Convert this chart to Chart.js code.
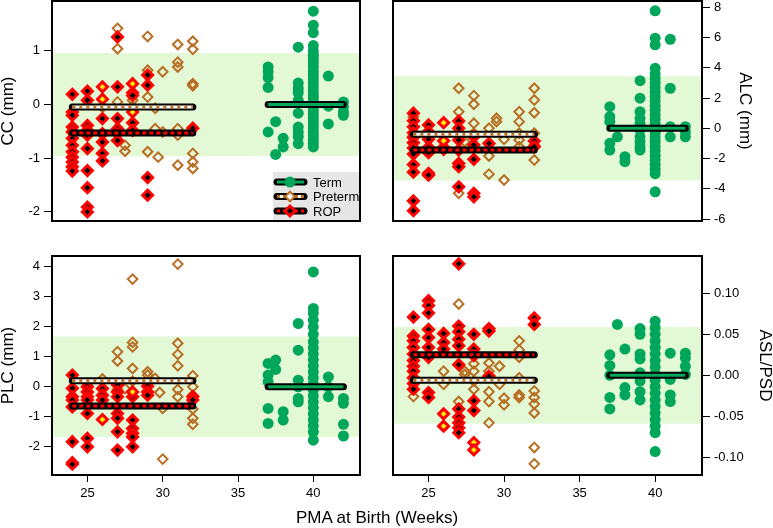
<!DOCTYPE html>
<html>
<head>
<meta charset="utf-8">
<script src="https://cdn.jsdelivr.net/npm/chart.js@4.4.0/dist/chart.umd.min.js"></script>
<style>
  body { margin: 0; background: #fff; width: 773px; height: 528px; position: relative; overflow: hidden;
         font-family: "Liberation Sans", Arial, sans-serif; }
  canvas { position: absolute; }
  #xTitle { position: absolute; left: 0; width: 754px; top: 508px; line-height: 20px; text-align: center; font-size: 17px; color: #000; }
</style>
</head>
<body>
<canvas id="cc" width="380" height="240" style="left:0;top:0"></canvas>
<canvas id="alc" width="387" height="240" style="left:386px;top:0"></canvas>
<canvas id="plc" width="380" height="260" style="left:0;top:250px"></canvas>
<canvas id="asl" width="387" height="260" style="left:386px;top:250px"></canvas>
<div id="xTitle">PMA at Birth (Weeks)</div>
<script>
// x axis (PMA at birth, weeks)
var weekTicks = [25, 30, 35, 40];
var weekMin = 22.65, weekMax = 43.1;

// group means (term normalised to 0) and the +/- normal range band
var meanTerm = [0, 0, 0, 0];
var meanPreterm = [-0.045, -0.40, 0.20, -0.006];
var meanRop = [-0.53, -1.44, -0.64, 0.025];
var normalBand = [0.96, 3.45, 1.68, 0.059];

// CC
var ccTerm = [[37,0.70],[37,0.61],[37,0.50],[37,0.32],[37,-0.51],[37.5,-0.32],[37.5,-0.93],[38,-0.63],[38,-0.79],
  [39,1.07],[39,0.40],[39,0.30],[39,0.22],[39,0.08],[39,-0.16],[39,-0.42],[39,-0.51],[39,-0.60],[39,-0.73],
  [40,1.74],[40,1.48],[40,1.34],[40,1.10],[40,1.0],[40,0.92],[40,0.85],[40,0.78],[40,0.70],[40,0.62],[40,0.55],[40,0.48],
  [40,0.40],[40,0.33],[40,0.25],[40,0.18],[40,0.12],[40,0.05],[40,0.0],[40,-0.05],[40,-0.12],[40,-0.18],[40,-0.25],
  [40,-0.32],[40,-0.38],[40,-0.45],[40,-0.52],[40,-0.58],[40,-0.65],[40,-0.72],[40,-0.79],
  [41,0.53],[41,-0.03],[41,-0.36],[42,0.05],[42,-0.04],[42,-0.14],[42,-0.20]];
var ccPreterm = [[27,1.42],[27,1.04],[29,1.27],[31,1.12],[32,1.18],[32,1.03],[31,0.79],[31,0.70],[30,0.61],[29,0.64],
  [29,0.14],[32,0.39],[32,0.35],[29.5,-0.07],[29.5,-0.45],[30,-0.51],[31,-0.45],[31,-0.57],[29,-0.88],[29.7,-0.98],
  [31,-1.13],[32,-0.91],[32,-1.07],[32,-1.19],[27.5,-0.76],[27.5,-0.87],[27,0.05],[28,0.08],[28,-0.04],[26,-0.05],[25,-0.5]];
var ccRop = [[24,0.19],[24,-0.14],[24,-0.20],[24,-0.42],[24,-0.51],[24,-0.63],[24,-0.76],[24,-0.88],[24,-0.98],[24,-1.07],
  [24,-1.16],[24,-1.24],[25,0.25],[25,0.08],[25,-0.39],[25,-0.48],[25,-0.57],[25,-0.82],[25,-1.23],[25,-1.55],[25,-1.91],
  [25,-2.0],[26,-0.26],[26,-0.54],[26,-0.70],[26,-0.91],[26,-1.05],[27,1.26],[27,0.33],[27,-0.26],[27,-0.45],[27,-0.54],
  [27,-0.67],[28,0.22],[28,0.17],[28,-0.34],[28,-0.48],[29,0.55],[29,0.36],[29,-1.36],[29,-1.69],[32,-0.44]];
var ccRopYellow = [[26,0.33],[26,0.10],[28,0.39],[28,-0.14]];

// ALC
var alcTerm = [[37,1.43],[37,0.77],[37,0.44],[37,-0.99],[37,-1.44],[37.5,-0.56],[38,-1.88],[38,-2.21],
  [39,3.15],[39,1.99],[39,1.10],[39,0.66],[39,0.33],[39,-0.11],[39,-0.56],[39,-0.89],[39,-1.22],[39,-1.44],
  [40,7.77],[40,5.96],[40,5.52],[40,3.97],[40,3.6],[40,3.3],[40,3.0],[40,2.7],[40,2.4],[40,2.1],[40,1.8],[40,1.5],
  [40,1.2],[40,0.9],[40,0.6],[40,0.3],[40,0],[40,-0.3],[40,-0.6],[40,-0.9],[40,-1.2],[40,-1.5],[40,-1.8],[40,-2.1],
  [40,-2.4],[40,-2.7],[40,-3.0],[40,-4.2],[41,5.89],[41,2.65],[41,0.11],[41,-0.56],[42,0.11],[42,-0.22],[42,-0.56]];
var alcPreterm = [[24,0.75],[24,-0.5],[27,2.65],[27,1.1],[27,-0.33],[27,-4.3],[28,2.16],[28,1.59],[28,0.33],[28,-0.33],
  [29,0.0],[29,-1.83],[29,-3.03],[29.5,0.66],[29.5,0.44],[30,-3.42],[30,-0.73],[27.4,-0.89],[31,1.1],[31,0.44],[31,-0.77],
  [31,-1.22],[31,-0.33],[32,2.65],[32,1.87],[32,1.03],[32,-0.33],[32,-1.1],[32,-2.1]];
var alcRop = [[24,1.0],[24,0.5],[24,0.1],[24,-0.3],[24,-0.6],[24,-0.95],[24,-1.3],[24,-1.7],[24,-2.4],[24,-2.9],[24,-4.8],
  [24,-5.45],[25,0.22],[25,-0.22],[25,-0.73],[25,-1.26],[25,-1.61],[25,-2.98],[25,-3.1],[26,-1.26],[26,-1.39],
  [27,0.48],[27,0.0],[27,-0.77],[27,-1.44],[27,-2.32],[27,-2.54],[27,-3.87],[28,-0.56],[28,-1.1],[28,-2.05],[28,-4.3],
  [28,-4.53],[29,-1.0],[32,-0.84],[32,-1.22]];
var alcRopYellow = [[26,0.37],[26,-0.82]];

// PLC
var plcTerm = [[37,0.78],[37,0.39],[37,0.17],[37,-0.72],[37,-1.22],[37.5,0.89],[37.5,0.58],[38,-0.83],[38,-1.11],
  [39,2.11],[39,1.22],[39,0.22],[39,0],[39,-0.39],[39,-0.5],
  [40,3.83],[40,2.61],[40,2.45],[40,2.22],[40,2.0],[40,1.75],[40,1.5],[40,1.3],[40,1.1],[40,0.9],[40,0.7],[40,0.5],
  [40,0.3],[40,0.1],[40,-0.1],[40,-0.3],[40,-0.5],[40,-0.7],[40,-0.9],[40,-1.1],[40,-1.3],[40,-1.5],[40,-1.78],
  [41,0.33],[41,0],[41,-0.33],[42,-0.39],[42,-0.55],[42,-1.25],[42,-1.64]];
var plcPreterm = [[28,3.59],[31,4.09],[27,1.17],[27,0.86],[28,1.48],[28,1.33],[28,0.61],[28,0.19],[29,0.5],[29,0.39],
  [29.5,0.28],[29.8,-0.19],[30,-0.72],[30,-2.41],[31,1.45],[31,1.08],[31,0.7],[31,-0.09],[31,-0.33],[32,0.37],[32,0],
  [32,-0.28],[32,-0.74],[32,-1.05],[32,-1.25],[26,0.26],[27.5,-0.06],[25,0.1],[27,-0.1]];
var plcRop = [[24,0.39],[24,-0.05],[24,-0.33],[24,-0.44],[24,-0.67],[24,-1.83],[24,-2.53],[24,-2.58],
  [25,0],[25,-0.17],[25,-0.33],[25,-0.44],[25,-0.89],[25,-1.72],[25,-2.0],[26,-0.06],[26,-0.28],[26,-0.44],
  [27,0.06],[27,-0.17],[27,-0.33],[27,-0.89],[27,-1.05],[27,-1.5],[27,-2.11],[28,-0.33],[28,-1.11],[28,-1.39],
  [28,-1.55],[28,-1.67],[28,-2.0],[29,0.02],[29,-0.17],[29,-0.28],[32,-0.33],[32,-0.44]];
var plcRopYellow = [[26,-1.09],[28,-0.17]];

// ASL/PSD
var aslTerm = [[37,0.025],[37,0.012],[37,0],[37,-0.027],[37,-0.041],[37.5,0.062],[38,0.032],[38,-0.015],[38,-0.024],
  [39,0.057],[39,0.050],[39,0.026],[39,0.020],[39,0.003],[39,-0.007],[39,-0.020],[39,-0.030],
  [40,0.066],[40,0.058],[40,0.050],[40,0.042],[40,0.034],[40,0.026],[40,0.018],[40,0.010],[40,0.002],[40,-0.006],
  [40,-0.014],[40,-0.022],[40,-0.030],[40,-0.038],[40,-0.046],[40,-0.054],[40,-0.062],[40,-0.070],[40,-0.093],
  [41,0.027],[41,-0.005],[41,-0.024],[41,-0.032],[42,0.027],[42,0.021],[42,0.011],[42,0.001]];
var aslPreterm = [[24,-0.026],[26,0.005],[26,-0.011],[27,0.087],[27,-0.032],[27.4,0.005],[27.4,0.001],[28,0.014],
  [28,0.005],[28,-0.017],[28,-0.007],[29,0.015],[29,0.005],[29,-0.020],[29,-0.032],[29,-0.058],[29.7,0.011],
  [29.7,-0.011],[30,-0.028],[30,-0.036],[31,0.042],[31,0.031],[31,0.022],[31,-0.003],[31,-0.024],[31,-0.027],
  [32,-0.019],[32,-0.027],[32,-0.035],[32,-0.046],[32,-0.088],[32,-0.108]];
var aslRop = [[24,0.071],[24,0.048],[24,0.042],[24,0.034],[24,0.026],[24,0.018],[24,0.011],[24,0.005],[24,-0.003],
  [24,-0.010],[24,-0.017],[25,0.091],[25,0.085],[25,0.076],[25,0.056],[25,0.046],[25,0.034],[25,0.022],[25,-0.021],
  [25,-0.027],[26,0.051],[26,0.040],[26,0.032],[27,0.136],[27,0.060],[27,0.053],[27,0.044],[27,0.036],[27,0.013],
  [27,-0.041],[27,-0.051],[27,-0.058],[27,-0.064],[27,-0.070],[28,0.050],[28,0.032],[28,0.024],[28,-0.031],[28,-0.043],
  [29,0.057],[29,0.054],[29,-0.001],[32,0.070],[32,0.062]];
var aslRopYellow = [[26,-0.047],[26,-0.062],[28,-0.082],[28,-0.091]];

// y axes
var yTitles = ['CC (mm)', 'ALC (mm)', 'PLC (mm)', 'ASL/PSD'];
var yMins = [-2.17, -6.13, -2.94, -0.1216];
var yMaxs = [1.93, 8.42, 4.36, 0.1455];
var yTickVals = [[-2, -1, 0, 1], [-6, -4, -2, 0, 2, 4, 6, 8], [-2, -1, 0, 1, 2, 3, 4], [-0.10, -0.05, 0, 0.05, 0.10]];

var GREEN = '#00a65a', BROWN = '#b86e23', RED = '#ff0000', BAND = '#e3f9d6';

Chart.defaults.font.family = '"Liberation Sans", Arial, sans-serif';
Chart.defaults.color = '#000';

function pts(arr) {
  return arr.map(function (p) { return {x: p[0], y: p[1]}; });
}

function hline(x0, x1, y) {
  return [{x: x0, y: y}, {x: x1, y: y}];
}

function lineDs(data, color, width, order, dash, cap) {
  return {data: data, showLine: true, borderColor: color, borderWidth: width, borderDash: dash || [],
    borderCapStyle: cap || 'butt', pointRadius: 0, order: order, fill: false};
}

function makePanel(id, i, term, preterm, rop, ropYellow, lay) {
  var ds = [];
  // mean bars: black outline with coloured core
  ds.push(lineDs(hline(37, 42, meanTerm[i]), '#000', 7, 3, null, 'round'));
  ds.push(lineDs(hline(37, 42, meanTerm[i]), GREEN, 3, 2));
  ds.push(lineDs(hline(24, 32, meanPreterm[i]), '#000', 7, 3, null, 'round'));
  ds.push(lineDs(hline(24, 32, meanPreterm[i]), '#fff', 3, 2));
  ds.push(lineDs(hline(24, 32, meanPreterm[i]), BROWN, 3, 1, [3, 4]));
  ds.push(lineDs(hline(24, 32, meanRop[i]), '#000', 7, 3, null, 'round'));
  ds.push(lineDs(hline(24, 32, meanRop[i]), RED, 3, 1, [4, 3]));
  // points
  ds.push({data: pts(ropYellow), pointStyle: 'rectRot', pointRadius: 5, pointBorderWidth: 3,
    pointBackgroundColor: '#ffee00', pointBorderColor: RED, order: 10});
  ds.push({data: pts(rop), pointStyle: 'rectRot', pointRadius: 5, pointBorderWidth: 3,
    pointBackgroundColor: '#000', pointBorderColor: RED, order: 11});
  ds.push({data: pts(preterm), pointStyle: 'rectRot', pointRadius: 4.8, pointBorderWidth: 2,
    pointBackgroundColor: 'rgba(0,0,0,0)', pointBorderColor: BROWN, order: 12});
  ds.push({data: pts(term), pointStyle: 'circle', pointRadius: 5.5, pointBorderWidth: 0,
    pointBackgroundColor: GREEN, pointBorderColor: GREEN, order: 13});

  var bandPlugin = {
    id: 'band' + i,
    beforeDatasetsDraw: function (chart) {
      var a = chart.chartArea, y = chart.scales.y, ctx = chart.ctx;
      var t = y.getPixelForValue(normalBand[i]), b = y.getPixelForValue(-normalBand[i]);
      ctx.save();
      ctx.fillStyle = BAND;
      ctx.fillRect(a.left, t, a.right - a.left, b - t);
      ctx.restore();
    },
    afterDatasetsDraw: function (chart) {
      var a = chart.chartArea, ctx = chart.ctx;
      ctx.save();
      ctx.strokeStyle = '#000';
      ctx.lineWidth = 2;
      ctx.strokeRect(a.left, a.top, a.right - a.left, a.bottom - a.top);
      ctx.restore();
    }
  };

  var fmt = function (v) { return i === 3 ? v.toFixed(2) : String(v); };

  var xScale = lay.bottom ? {
    min: weekMin, max: weekMax,
    afterBuildTicks: function (s) { s.ticks = weekTicks.map(function (v) { return {value: v}; }); },
    afterFit: function (s) { s.height = lay.xHeight; s.paddingLeft = 0; s.paddingRight = 0; },
    ticks: {font: {size: 13}, color: '#000', padding: 4, maxRotation: 0},
    grid: {drawOnChartArea: false, drawTicks: true, tickLength: 7, color: '#000', lineWidth: 1},
    border: {display: false}
  } : {display: false, min: weekMin, max: weekMax};

  var plugins = [bandPlugin];
  if (lay.legend) plugins.push(legendPlugin);

  new Chart(document.getElementById(id), {
    type: 'scatter',
    data: {datasets: ds},
    options: {
      responsive: false,
      animation: false,
      events: [],
      layout: {autoPadding: false, padding: lay.pad},
      plugins: {legend: {display: false}, tooltip: {enabled: false}},
      scales: {
        x: xScale,
        y: {
          position: lay.side,
          min: yMins[i], max: yMaxs[i],
          afterBuildTicks: function (s) { s.ticks = yTickVals[i].map(function (v) { return {value: v}; }); },
          afterFit: function (s) { s.width = lay.yWidth; s.paddingTop = 0; s.paddingBottom = 0; },
          ticks: {font: {size: 13}, color: '#000', padding: 4, callback: fmt},
          grid: {drawOnChartArea: false, drawTicks: true, tickLength: 8, color: '#000', lineWidth: 1},
          border: {display: false},
          title: {display: true, text: yTitles[i], color: '#000', font: {size: 17, lineHeight: 1},
            padding: {top: lay.titlePad, bottom: 0}}
        }
      }
    },
    plugins: plugins
  });
}

// legend box in the CC panel
var legendPlugin = {
  id: 'boxLegend',
  afterDraw: function (chart) {
    var a = chart.chartArea, ctx = chart.ctx;
    var bx = a.right - 87, by = a.bottom - 49;
    ctx.save();
    ctx.fillStyle = '#e6e6e6';
    ctx.fillRect(bx, by, 87, 49);
    ctx.strokeStyle = '#000';
    ctx.lineWidth = 2;
    ctx.strokeRect(a.left, a.top, a.right - a.left, a.bottom - a.top);
    var rows = [
      {label: 'Term', core: GREEN, dash: null, fill: GREEN, stroke: GREEN, style: 'circle', r: 5.5, bw: 0},
      {label: 'Preterm', core: '#fff', dash: BROWN, fill: '#fff', stroke: BROWN, style: 'rectRot', r: 4.8, bw: 2},
      {label: 'ROP', core: '#000', dash: RED, fill: '#000', stroke: RED, style: 'rectRot', r: 5, bw: 3}
    ];
    rows.forEach(function (row, k) {
      var y = by + 10 + k * 14.5;
      var x0 = bx + 4, x1 = bx + 31, xm = bx + 17;
      ctx.lineCap = 'round';
      ctx.setLineDash([]);
      ctx.strokeStyle = '#000';
      ctx.lineWidth = 7;
      ctx.beginPath(); ctx.moveTo(x0, y); ctx.lineTo(x1, y); ctx.stroke();
      ctx.lineCap = 'butt';
      ctx.strokeStyle = row.core;
      ctx.lineWidth = 3;
      ctx.beginPath(); ctx.moveTo(x0, y); ctx.lineTo(x1, y); ctx.stroke();
      if (row.dash) {
        ctx.setLineDash([3, 3]);
        ctx.strokeStyle = row.dash;
        ctx.beginPath(); ctx.moveTo(x0, y); ctx.lineTo(x1, y); ctx.stroke();
        ctx.setLineDash([]);
      }
      ctx.fillStyle = row.fill;
      ctx.strokeStyle = row.stroke;
      ctx.lineWidth = row.bw;
      Chart.helpers.drawPoint(ctx, {pointStyle: row.style, radius: row.r, borderWidth: row.bw, rotation: 0}, xm, y);
      ctx.fillStyle = '#000';
      ctx.font = '13px "Liberation Sans", Arial, sans-serif';
      ctx.textBaseline = 'middle';
      ctx.textAlign = 'left';
      ctx.fillText(row.label, bx + 40, y + 1);
    });
    ctx.restore();
  }
};

makePanel('cc', 0, ccTerm, ccPreterm, ccRop, ccRopYellow,
  {side: 'left', bottom: false, yWidth: 52, titlePad: 0, pad: {top: 1, right: 20, bottom: 19, left: 0}, legend: true});
makePanel('alc', 1, alcTerm, alcPreterm, alcRop, alcRopYellow,
  {side: 'right', bottom: false, yWidth: 71, titlePad: 19.5, pad: {top: 1, right: 0, bottom: 19, left: 7}});
makePanel('plc', 2, plcTerm, plcPreterm, plcRop, plcRopYellow,
  {side: 'left', bottom: true, yWidth: 52, xHeight: 35, titlePad: 0, pad: {top: 6, right: 20, bottom: 0, left: 0}});
makePanel('asl', 3, aslTerm, aslPreterm, aslRop, aslRopYellow,
  {side: 'right', bottom: true, yWidth: 71, xHeight: 35, titlePad: 0, pad: {top: 6, right: 0, bottom: 0, left: 7}});
</script>
</body>
</html>
